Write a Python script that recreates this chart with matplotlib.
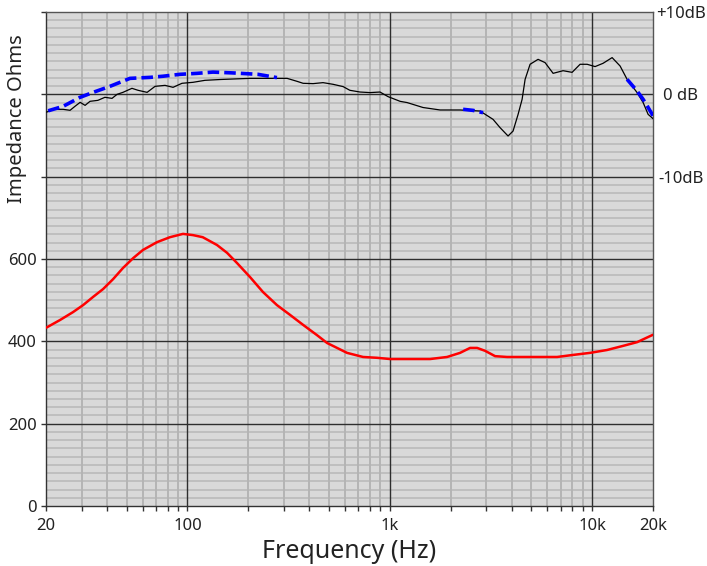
import matplotlib.pyplot as plt
import numpy as np

plt.rcParams['font.family'] = ['Noto Sans', 'DejaVu Sans']

# impedance curve (ohms)
imp_freq = [20.2, 23.5, 27.2, 30.5, 34.2, 38.3, 42.9, 48.0, 53.9, 60.3, 70.8, 82.0,
            95.1, 106.6, 119, 140, 157, 176, 204, 236, 277, 322, 373, 437, 490,
            549, 615, 738, 866, 1004, 1582, 1920, 2226, 2494, 2702, 2958, 3316,
            3800, 6714, 8057, 9778, 11864, 14234, 16688, 19798]
imp_ohm = [434, 452, 471, 488, 508, 527, 551, 578, 602, 622, 641, 653,
           661, 658, 653, 634, 615, 590, 556, 520, 488, 464, 440, 415, 396,
           384, 372, 362, 360, 357, 357, 362, 372, 384, 384, 377, 364,
           362, 362, 367, 372, 379, 389, 398, 415]

# response curve (dB)
spl_freq = [20.2, 21.7, 24.3, 26.3, 27.8, 29.5, 31.2, 33.0, 36.1, 39.1, 42.4, 44.9,
            48.0, 53.2, 57.0, 63.2, 69.2, 77.5, 84.9, 94.0, 106.6, 122, 145, 204,
            311, 348, 373, 418, 468, 524, 588, 635, 713, 799, 895, 981, 1125,
            1218, 1460, 1773, 2226, 2795, 3240, 3510, 3843, 4068, 4308, 4509,
            4666, 4938, 5408, 5857, 6417, 7188, 7965, 8722, 9452, 10348, 11332,
            12560, 13754, 14894, 16688, 17870, 18918, 20000]
spl_db = [-2.15, -1.82, -1.82, -1.94, -1.46, -0.97, -1.34, -0.85, -0.73, -0.36, -0.49, 0.0,
          0.24, 0.73, 0.49, 0.24, 0.97, 1.09, 0.85, 1.34, 1.46, 1.70, 1.80, 1.94,
          1.94, 1.58, 1.34, 1.30, 1.42, 1.22, 0.94, 0.49, 0.28, 0.21, 0.28, -0.28, -0.85,
          -1.0, -1.6, -1.9, -1.9, -2.03, -3.04, -4.05, -5.06, -4.46, -2.43, -0.61,
          1.82, 3.65, 4.25, 3.85, 2.55, 2.87, 2.67, 3.65, 3.65, 3.37, 3.77,
          4.46, 3.44, 1.82, 0.21, -0.99, -2.43, -2.95]

# target segments (dB, dashed)
tgt1_freq = [20.5, 24.3, 29.5, 34.2, 41.4, 52.0, 65.3, 75.8, 91.9, 111.6, 133.8, 168, 223, 277]
tgt1_db = [-2.0, -1.46, -0.36, 0.24, 0.97, 1.94, 2.06, 2.2, 2.43, 2.55, 2.7, 2.6, 2.43, 2.03]
tgt2_freq = [2304, 2582, 2892]
tgt2_db = [-1.82, -1.95, -2.23]
tgt3_freq = [14894, 16688, 17870, 18918, 20000]
tgt3_db = [1.82, 0.4, -0.6, -1.6, -2.6]

xtick_pos = [20, 30, 40, 50, 60, 70, 80, 90, 100, 200, 300, 400, 500, 600, 700, 800, 900,
             1000, 2000, 3000, 4000, 5000, 6000, 7000, 8000, 9000, 10000, 20000]
xtick_lab = {20: '20', 100: '100', 1000: '1k', 10000: '10k', 20000: '20k'}
ytick_lab = ['0', '200', '400', '600', '', '', '']

fig = plt.figure(figsize=(7.07, 5.66), dpi=100)
ax = fig.add_axes([46 / 707, 60 / 566, 607 / 707, 494 / 566])
ax.set_facecolor('#d9d9d9')
ax.set_xscale('log')
ax.set_xlim(20, 20000)
ax.set_ylim(0, 1200)

# grid
for y in np.arange(20, 1200, 20):
    if y % 200:
        ax.axhline(y, color='#b8b8b8', lw=1.1, zorder=0.5)
for f in xtick_pos:
    if f in (100, 1000, 10000):
        ax.axvline(f, color='#2e2e2e', lw=1.0, zorder=0.7)
    elif f not in (20, 20000):
        ax.axvline(f, color='#b4b4b4', lw=1.4, zorder=0.5)
for y in range(200, 1200, 200):
    ax.axhline(y, color='#2e2e2e', lw=1.0, zorder=0.7)

ax.plot(imp_freq, imp_ohm, color='#ff0000', lw=1.8, zorder=3)

ax.set_xticks(xtick_pos)
ax.set_xticklabels([xtick_lab.get(f, '') for f in xtick_pos])
ax.xaxis.set_minor_locator(plt.NullLocator())
ax.set_yticks(range(0, 1201, 200))
ax.set_yticklabels(ytick_lab)
ax.tick_params(axis='x', length=3.5, width=1, color='#333333', pad=5,
               labelsize=12, labelcolor='#222222')
ax.tick_params(axis='y', length=3.5, width=1, color='#333333', pad=3,
               labelsize=12, labelcolor='#222222')
for s in ax.spines.values():
    s.set_color('#555555')
    s.set_linewidth(1)
ax.spines['left'].set_color('#333333')
ax.spines['bottom'].set_color('#333333')

ax.set_xlabel('Frequency (Hz)', fontsize=18, color='#222222', labelpad=4)
ax.set_ylabel('Impedance Ohms', fontsize=14.5, color='#222222', va='center')
ax.yaxis.set_label_coords((17 - 46) / 607, (506 - 119) / 494)

ax2 = ax.twinx()
ax2.set_ylim(-50, 10)
ax2.plot(spl_freq, spl_db, color='black', lw=0.9, zorder=3)
for fr, db in [(tgt1_freq, tgt1_db), (tgt2_freq, tgt2_db), (tgt3_freq, tgt3_db)]:
    ax2.plot(fr, db, color='#0000ff', lw=2.6, dashes=(3.2, 1.4), zorder=4)
ax2.set_yticks([10, 0, -10])
ax2.set_yticklabels(['+10dB', '0 dB', '-10dB'])
ax2.tick_params(axis='y', length=0, pad=20, labelsize=12, labelcolor='#222222')
for lab in ax2.get_yticklabels():
    lab.set_horizontalalignment('center')
for s in ax2.spines.values():
    s.set_visible(False)

fig.savefig('out.png', dpi=100)
